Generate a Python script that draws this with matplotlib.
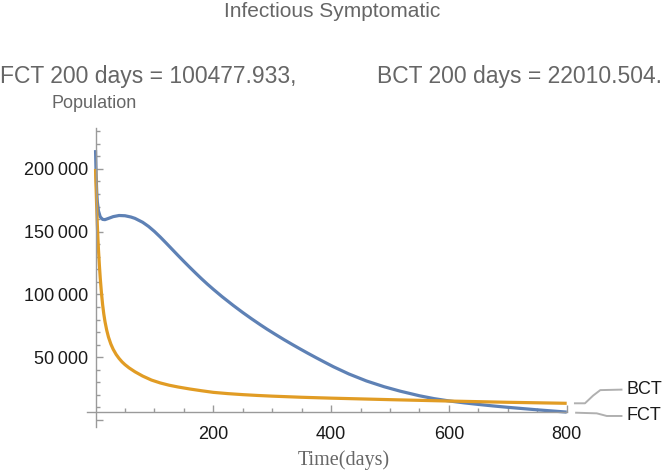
import matplotlib
matplotlib.use('Agg')
from matplotlib import pyplot as plt
from matplotlib.ticker import FixedLocator, FuncFormatter

plt.rcParams['font.family'] = ['Liberation Sans', 'DejaVu Sans']

# FCT (blue), values
fct_t = [0, 0.5, 1, 2, 3, 5, 8, 12, 16, 22, 30, 40, 50, 60, 67, 80, 90, 100, 110, 120,
         130, 140, 150, 160, 170, 180, 190, 200, 215, 234, 250, 265, 280, 291, 305, 320,
         335, 347, 360, 375, 390, 404, 430, 460, 490, 517, 550, 575, 600, 625, 650, 675,
         700, 725, 750, 775, 800]
fct = [215000, 205000, 195000, 182000, 174000, 166500, 161800, 159800, 159600, 160600,
       162000, 162900, 162700, 161700, 160600, 157500, 154200, 150200, 145700, 140900,
       136000, 131100, 126300, 121600, 117000, 112500, 108200, 104100, 98200, 91200,
       85600, 80600, 75800, 72400, 68300, 64000, 59900, 56700, 53300, 49500, 45800,
       42400, 36700, 31100, 26500, 23000, 19300, 17000, 15200, 13700, 12400, 11200,
       10100, 9100, 8100, 7200, 6300]

# BCT (orange)
bct_t = [0, 1, 2, 3, 4, 5, 6.5, 8, 10, 12, 14, 16, 19, 22, 26, 30, 35, 40, 45, 50, 57,
         67, 80, 95, 110, 125, 140, 160, 180, 200, 225, 250, 275, 300, 350, 400, 450,
         500, 550, 600, 650, 700, 750, 800]
bct = [200000, 184000, 169000, 156000, 145000, 135500, 123500, 113000, 101500, 92000,
       84500, 78500, 71500, 66000, 60500, 56300, 52200, 49000, 46300, 44100, 41500,
       38400, 35000, 31800, 29500, 27700, 26300, 24700, 23300, 22010, 21000, 20200,
       19550, 19000, 18100, 17400, 16800, 16200, 15650, 15100, 14600, 14100, 13700, 13300]

title = 'Infectious Symptomatic'
fct_note = 'FCT 200 days = 100477.933,'
bct_note = 'BCT 200 days = 22010.504.'
x_major = [200, 400, 600, 800]
y_major = [0, 50000, 100000, 150000, 200000]

W, H = 667, 471
fig = plt.figure(figsize=(W / 100, H / 100), dpi=100)
ax = fig.add_axes([86.7 / W, 1 - 426.9 / H, 480 / W, (426.9 - 127.5) / H])

blue = '#5e81b5'
orange = '#e19c24'
ax.plot(fct_t, fct, color=blue, lw=2.3, solid_capstyle='butt')
ax.plot(bct_t, bct, color=orange, lw=2.3, solid_capstyle='butt')

ax.set_xlim(-15, 800)
ax.set_ylim(-5500, 233000)

axcol = '#9a9a9a'
for s in ['top', 'right']:
    ax.spines[s].set_visible(False)
ax.spines['left'].set_position(('data', 0))
ax.spines['bottom'].set_position(('data', 6500))
for s in ['left', 'bottom']:
    ax.spines[s].set_color(axcol)
    ax.spines[s].set_linewidth(1.0)

ax.xaxis.set_major_locator(FixedLocator(x_major))
ax.xaxis.set_minor_locator(FixedLocator([v for v in range(50, 801, 50) if v not in x_major]))
ax.yaxis.set_major_locator(FixedLocator(y_major))
ax.yaxis.set_minor_locator(FixedLocator([v for v in range(10000, 231000, 10000) if v not in y_major]))
ax.yaxis.set_major_formatter(FuncFormatter(lambda v, p: '' if v == 0 else f'{int(v) // 1000}\u2009000'))

ax.tick_params(which='both', direction='in', color=axcol, width=1.0, labelcolor='#1a1a1a',
               labelsize=13)
ax.tick_params(which='major', length=5)
ax.tick_params(which='minor', length=3)
ax.tick_params(axis='x', pad=10)
ax.tick_params(axis='y', pad=5)

gray = '#666666'
fig.text(332.5 / W, 1 - 17 / H, title, ha='center', va='baseline', color=gray, fontsize=15)
fig.text(0 / W, 1 - 83.3 / H, fct_note, ha='left', va='baseline', color=gray, fontsize=16.5)
fig.text(376.7 / W, 1 - 83.3 / H, bct_note, ha='left', va='baseline', color=gray, fontsize=16.5)
fig.text(51.7 / W, 1 - 107.7 / H, 'Population', ha='left', va='baseline', color=gray, fontsize=13)
fig.text(344 / W, 1 - 465 / H, 'Time(days)', ha='center', va='baseline', color=gray,
         fontsize=14.5, family='Liberation Serif')

# callout labels on the right
lc = '#b0b0b0'
ax.plot([814, 831, 845, 857, 893], [bct[-1], bct[-1], 19500, 23800, 24200], color=lc, lw=1.4,
        clip_on=False)
ax.plot([816, 851, 860, 868, 893], [5800, 5300, 4200, 3200, 3200], color=lc, lw=1.4,
        clip_on=False)
ax.text(902, 24200, 'BCT', ha='left', va='center', fontsize=13, color='#1a1a1a', clip_on=False)
ax.text(902, 3200, 'FCT', ha='left', va='center', fontsize=13, color='#1a1a1a', clip_on=False)

fig.savefig('out.png', dpi=100)
